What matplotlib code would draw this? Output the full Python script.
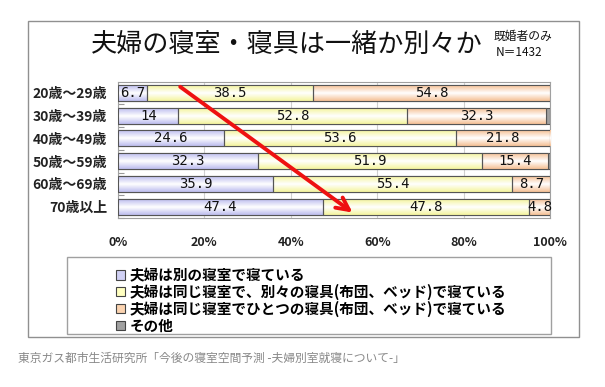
import numpy as np
import matplotlib
matplotlib.use("Agg")
import matplotlib.pyplot as plt
from matplotlib.patches import Rectangle
from matplotlib.colors import LinearSegmentedColormap

plt.rcParams['font.family'] = ['Noto Sans CJK JP', 'DejaVu Sans']

categories = ["20歳～29歳", "30歳～39歳", "40歳～49歳", "50歳～59歳", "60歳～69歳", "70歳以上"]
separate_room = [6.7, 14, 24.6, 32.3, 35.9, 47.4]
same_room_separate_bed = [38.5, 52.8, 53.6, 51.9, 55.4, 47.8]
same_room_same_bed = [54.8, 32.3, 21.8, 15.4, 8.7, 4.8]
other = [0, 0.9, 0, 0.4, 0, 0]
series_names = ["夫婦は別の寝室で寝ている",
                "夫婦は同じ寝室で、別々の寝具(布団、ベッド)で寝ている",
                "夫婦は同じ寝室でひとつの寝具(布団、ベッド)で寝ている",
                "その他"]
xticks = [0, 20, 40, 60, 80, 100]
xtick_labels = ["0%", "20%", "40%", "60%", "80%", "100%"]

W, H = 605, 387
fig = plt.figure(figsize=(W / 100, H / 100), dpi=100)

def fx(px):
    return px / W

def fy(py):
    return 1 - py / H

ax = fig.add_axes([fx(118), fy(218), fx(550) - fx(118), fy(82) - fy(218)])

base_colors = ["#d0d0f4", "#ffffc0", "#fbd3b0", "#a0a0a0"]
edge_colors = ["#bcbcee", "#f4f49c", "#f5bf94", "#909090"]
series = [separate_room, same_room_separate_bed, same_room_same_bed, other]
y = np.arange(len(categories))
left = np.zeros(len(categories))
for vals, col, ecol, name in zip(series, base_colors, edge_colors, series_names):
    vals = np.array(vals, dtype=float)
    bc = ax.barh(y, vals, left=left, height=0.7, color=col, edgecolor="#555555",
                 linewidth=0.8, label=name, zorder=3)
    if col != "#a0a0a0":
        cmap = LinearSegmentedColormap.from_list("g", [ecol, "#ffffff", ecol])
        grad = np.linspace(0, 1, 64).reshape(-1, 1)
        for p in bc.patches:
            if p.get_width() <= 0:
                continue
            x0, y0 = p.get_x(), p.get_y()
            im = ax.imshow(grad, cmap=cmap, aspect="auto",
                           extent=(x0, x0 + p.get_width(), y0 + p.get_height(), y0),
                           zorder=3.5, interpolation="bilinear")
            im.set_clip_path(p)
            ax.add_patch(Rectangle((x0, y0), p.get_width(), p.get_height(),
                                   fill=False, edgecolor="#555555", lw=0.8, zorder=3.6))
    left = left + vals

# value labels
left = np.zeros(len(categories))
for vals in series[:3]:
    for i, v in enumerate(vals):
        if v > 0:
            ax.text(left[i] + v / 2, y[i], f"{v:g}", ha="center", va="center",
                    fontsize=10, family="DejaVu Sans Mono", color="#111111", zorder=5)
    left = left + np.array(vals, dtype=float)

ax.set_xlim(0, 100)
ax.set_ylim(5.45, -0.48)
ax.set_xticks(xticks)
ax.set_xticklabels(xtick_labels, fontsize=9, fontweight="bold", color="#222222")
ax.set_yticks(y)
ax.set_yticklabels(categories, fontsize=10, fontweight="bold", color="#222222")
ax.tick_params(axis="x", length=0, pad=13)
ax.tick_params(axis="y", length=0, pad=8)
ax.set_yticks(np.arange(len(categories)) + 0.5, minor=True)
ax.tick_params(axis="y", which="minor", direction="in", length=4, color="#999999", width=0.8)
ax.grid(axis="x", color="#d0d0d0", lw=0.8, zorder=0)
for s in ax.spines.values():
    s.set_color("#a0a0a0")
    s.set_linewidth(0.8)

# red arrow
ax.annotate("", xy=(54.3, 5.26), xytext=(14.4, -0.27),
            arrowprops=dict(arrowstyle="->,head_length=0.9,head_width=0.45",
                            color="#ee1111", lw=2.8, shrinkA=0, shrinkB=0),
            zorder=6)

# outer frame
fig.patches.append(Rectangle((fx(28), fy(337)), fx(579) - fx(28), fy(21) - fy(337),
                             transform=fig.transFigure, fill=False,
                             edgecolor="#909090", lw=1.0))
# legend box
fig.patches.append(Rectangle((fx(67), fy(334)), fx(551) - fx(67), fy(257) - fy(334),
                             transform=fig.transFigure, fill=False,
                             edgecolor="#a0a0a0", lw=1.0))

handles = [Rectangle((0, 0), 1, 1, facecolor=c, edgecolor="#444444", lw=0.8)
           for c in base_colors]
fig.legend(handles, series_names, loc="upper left",
           bbox_to_anchor=(fx(106), fy(257)), frameon=False,
           prop=dict(size=10.5, weight="bold"), handlelength=0.6, handleheight=0.6,
           handletextpad=0.35, labelspacing=0.05, borderpad=0.2)

fig.text(fx(287), fy(45), "夫婦の寝室・寝具は一緒か別々か", ha="center", va="center",
         fontsize=18.8, color="#111111")
fig.text(fx(494), fy(36), "既婚者のみ", ha="left", va="center", fontsize=8.5, color="#111111")
fig.text(fx(496), fy(53), "N＝1432", ha="left", va="center", fontsize=8.5, color="#111111")
fig.text(fx(18), fy(358), "東京ガス都市生活研究所「今後の寝室空間予測 -夫婦別室就寝について-」",
         ha="left", va="center", fontsize=8.5, color="#888888")

fig.savefig("out.png", dpi=100)
